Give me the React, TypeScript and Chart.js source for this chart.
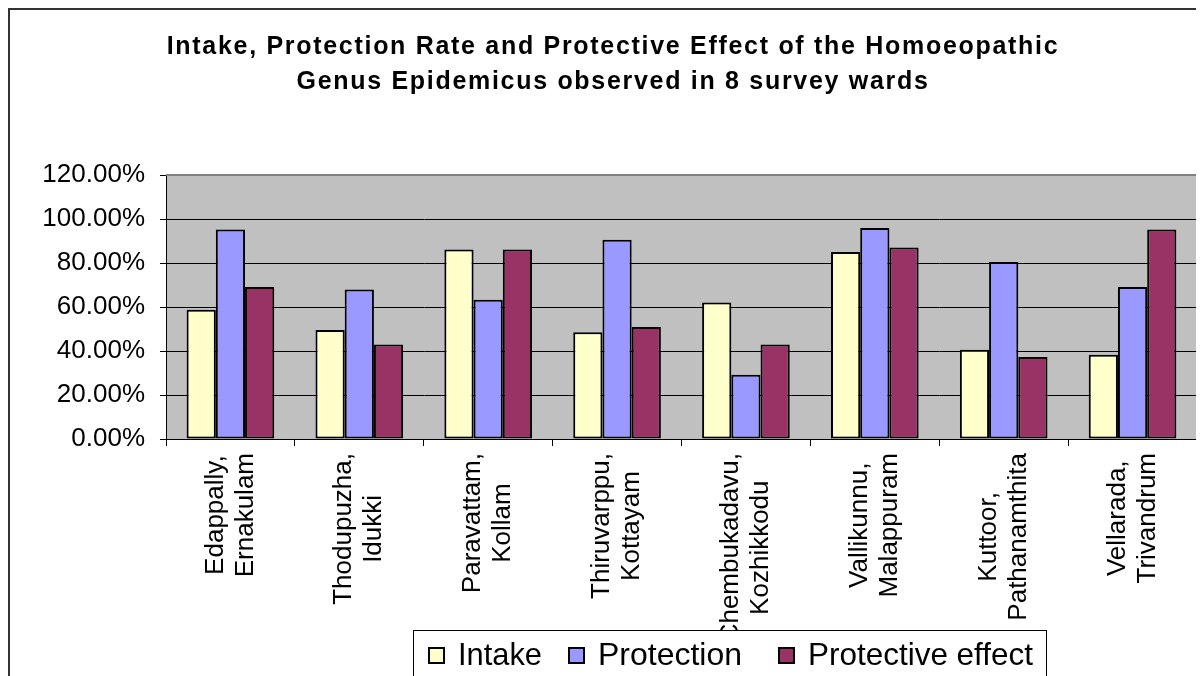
import React, { useEffect, useRef } from 'react';
import { Chart, registerables } from 'chart.js';

Chart.register(...registerables);

const TITLE_LINES = [
  'Intake, Protection Rate and Protective Effect of the Homoeopathic',
  'Genus Epidemicus observed in 8 survey wards',
];

const CATEGORIES: string[][] = [
  ['Edappally,', 'Ernakulam'],
  ['Thodupuzha,', 'Idukki'],
  ['Paravattam,', 'Kollam'],
  ['Thiruvarppu,', 'Kottayam'],
  ['Chembukadavu,', 'Kozhikkodu'],
  ['Vallikunnu,', 'Malappuram'],
  ['Kuttoor,', 'Pathanamthita'],
  ['Vellarada,', 'Trivandrum'],
];

const SERIES_NAMES = ['Intake', 'Protection', 'Protective effect'];
const INTAKE = [58.8, 49.5, 86.1, 48.5, 62.1, 85.0, 40.6, 38.3];
const PROTECTION = [95.2, 67.9, 63.3, 90.6, 29.2, 95.9, 80.5, 69.1];
const PROTECTIVE_EFFECT = [69.1, 43.0, 86.1, 50.9, 42.9, 87.1, 37.3, 95.2];

const Y_MIN = 0;
const Y_MAX = 120;
const Y_STEP = 20;

const COLORS = ['#FFFFCC', '#9999FF', '#993366'];
const FONT = '"Liberation Sans", Arial, sans-serif';

const CANVAS_W = 1210;
const CANVAS_H = 680;

const excelPlugin = {
  id: 'excelStyle',
  beforeDraw(chart: any) {
    const { ctx, chartArea: a, width, height } = chart;
    ctx.save();
    ctx.fillStyle = '#ffffff';
    ctx.fillRect(0, 0, width, height);
    ctx.fillStyle = '#C0C0C0';
    ctx.fillRect(a.left, a.top, a.right - a.left, a.bottom - a.top);
    // outer chart border
    ctx.strokeStyle = '#333333';
    ctx.lineWidth = 2;
    ctx.strokeRect(1, 1, width - 2, height - 2);
    // title
    ctx.fillStyle = '#000';
    ctx.font = `bold 25px ${FONT}`;
    try { (ctx as any).letterSpacing = '1.7px'; } catch (e) {}
    ctx.textAlign = 'center';
    ctx.textBaseline = 'middle';
    TITLE_LINES.forEach((t, i) => ctx.fillText(t, width / 2, 39 + i * 35));
    try { (ctx as any).letterSpacing = '0px'; } catch (e) {}
    ctx.restore();
  },
  afterDatasetsDraw(chart: any) {
    const { ctx, chartArea: a } = chart;
    ctx.save();
    ctx.strokeStyle = '#808080';
    ctx.lineWidth = 2;
    ctx.beginPath();
    ctx.moveTo(a.left, a.top);
    ctx.lineTo(a.right, a.top);
    ctx.lineTo(a.right, a.bottom);
    ctx.stroke();
    ctx.restore();
  },
  afterDraw(chart: any) {
    const { ctx, chartArea: a } = chart;
    const xScale = chart.scales.x;
    ctx.save();
    // category labels, rotated, lines centred on each other
    ctx.fillStyle = '#000';
    ctx.font = `26px ${FONT}`;
    ctx.textAlign = 'center';
    ctx.textBaseline = 'middle';
    const labels: string[][] = chart.data.labels;
    labels.forEach((lines, i) => {
      const x = xScale.getPixelForValue(i);
      const w = Math.max(...lines.map((l) => ctx.measureText(l).width));
      const yc = a.bottom + 14 + w / 2;
      const lh = 30;
      ctx.save();
      ctx.translate(x, yc);
      ctx.rotate(-Math.PI / 2);
      lines.forEach((l, j) => {
        const off = (j - (lines.length - 1) / 2) * lh;
        ctx.fillText(l, 0, off);
      });
      ctx.restore();
    });

    // legend box
    const boxL = 405, boxT = 622, boxR = 1038;
    ctx.fillStyle = '#ffffff';
    ctx.fillRect(boxL, boxT, boxR - boxL, 100);
    ctx.strokeStyle = '#000';
    ctx.lineWidth = 1;
    ctx.strokeRect(boxL + 0.5, boxT + 0.5, boxR - boxL, 100);
    const swatchX = [420, 560, 770];
    const textMax = [84, 144, 225];
    ctx.font = `32px ${FONT}`;
    ctx.textAlign = 'left';
    ctx.textBaseline = 'alphabetic';
    chart.data.datasets.forEach((ds: any, i: number) => {
      const sx = swatchX[i];
      ctx.fillStyle = ds.backgroundColor;
      ctx.fillRect(sx, 639, 17, 17);
      ctx.strokeStyle = '#000';
      ctx.lineWidth = 2;
      ctx.strokeRect(sx + 1, 640, 15, 15);
      ctx.fillStyle = '#000';
      ctx.fillText(ds.label, sx + 30, 657, textMax[i]);
    });
    ctx.restore();
  },
};

export default function App() {
  const ref = useRef<HTMLCanvasElement | null>(null);

  useEffect(() => {
    document.documentElement.style.overflow = 'hidden';
    document.body.style.overflow = 'hidden';
    const canvas = ref.current;
    if (!canvas) return;
    const series = [INTAKE, PROTECTION, PROTECTIVE_EFFECT];
    const chart = new Chart(canvas, {
      type: 'bar',
      data: {
        labels: CATEGORIES as any,
        datasets: series.map((d, i) => ({
          label: SERIES_NAMES[i],
          data: d,
          backgroundColor: COLORS[i],
          borderColor: '#000',
          borderWidth: 2,
          borderSkipped: false,
          categoryPercentage: 0.68,
          barPercentage: 1,
        })),
      },
      options: {
        animation: false,
        responsive: false,
        devicePixelRatio: 1,
        layout: { padding: { top: 167, right: 21, bottom: 0, left: 0 } },
        plugins: {
          legend: { display: false },
          title: { display: false },
          tooltip: { enabled: false },
        },
        scales: {
          x: {
            offset: true,
            grid: {
              offset: true,
              drawOnChartArea: false,
              drawTicks: true,
              tickLength: 7,
              color: '#000',
            },
            border: { display: true, color: '#000', width: 1 },
            ticks: { display: false },
            afterFit: (s: any) => { s.height = CANVAS_H - 431; },
          },
          y: {
            min: Y_MIN,
            max: Y_MAX,
            grid: {
              color: '#000',
              lineWidth: 1,
              drawTicks: true,
              tickLength: 6,
              tickColor: '#000',
            },
            border: { display: true, color: '#000', width: 1 },
            ticks: {
              stepSize: Y_STEP,
              padding: 15,
              color: '#000',
              font: { family: FONT, size: 26 },
              callback: (v: any) => Number(v).toFixed(2) + '%',
            },
            afterFit: (s: any) => { s.width = 158; },
          },
        },
      },
      plugins: [excelPlugin],
    } as any);
    return () => chart.destroy();
  }, []);

  return (
    <canvas
      ref={ref}
      width={CANVAS_W}
      height={CANVAS_H}
      style={{ display: 'block', width: CANVAS_W + 'px', height: CANVAS_H + 'px' }}
    />
  );
}
